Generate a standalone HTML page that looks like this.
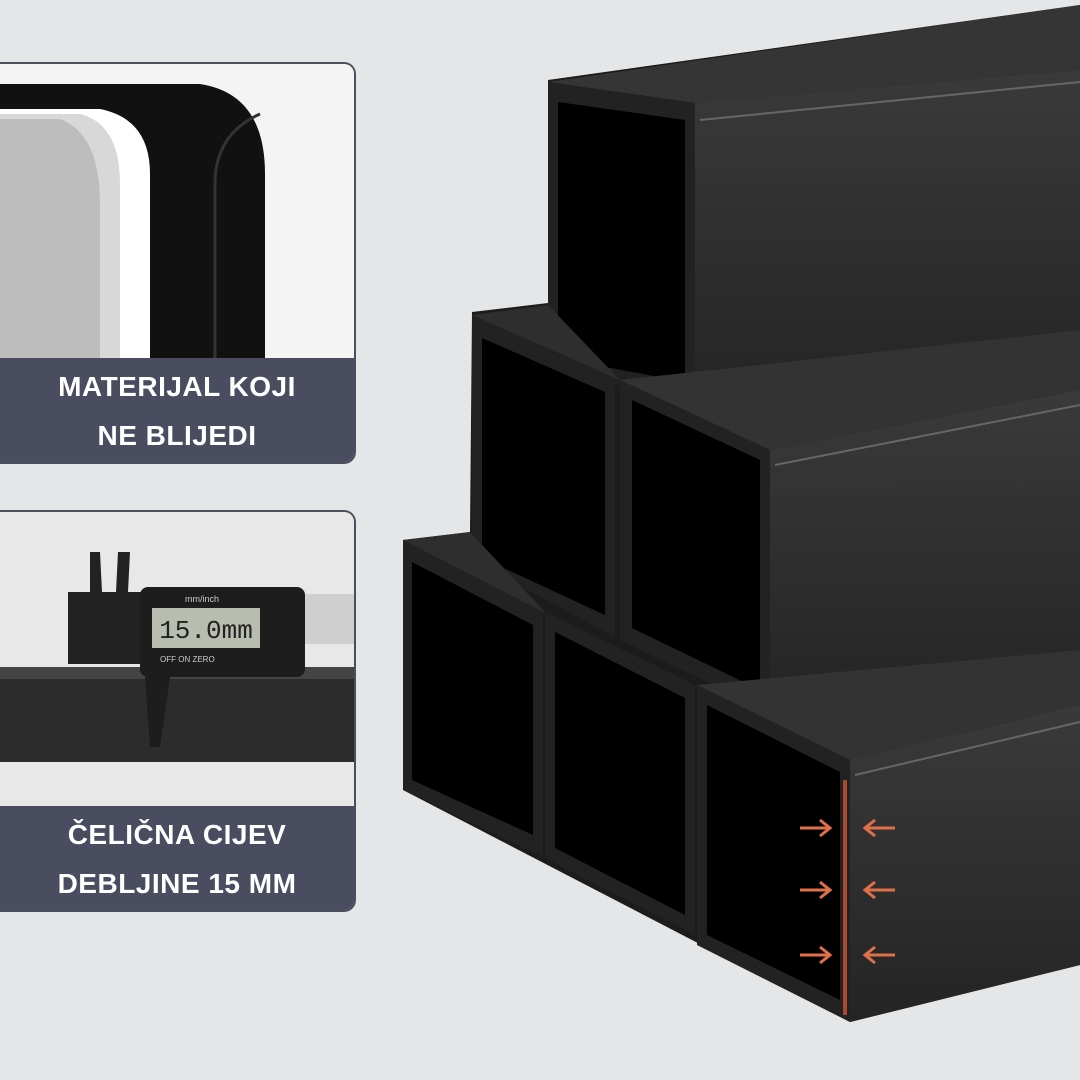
<!DOCTYPE html>
<html><head><meta charset="utf-8"><style>
body{margin:0;width:1080px;height:1080px;background:#e5e6e8;overflow:hidden;position:relative;font-family:"Liberation Sans",sans-serif}
.p{position:absolute;left:0;width:354px;height:398px;border:2px solid #4b4e5e;border-left:none;border-radius:0 12px 12px 0;overflow:hidden;background:#f2f2f2}
.lab{position:absolute;left:0;right:0;bottom:0;height:104px;background:#4a4d5f;color:#fff;font-weight:bold;font-size:28px;letter-spacing:0.5px;text-align:center;line-height:49px;padding-top:4px;box-sizing:border-box}
</style></head><body>
<div class="p" style="top:62px">
<svg width="354" height="296" style="position:absolute;top:0;left:0">
<rect width="354" height="296" fill="#f4f4f4"/>
<path d="M0,20 L200,20 Q265,30 265,110 L265,296 L0,296Z" fill="#111"/>
<path d="M0,45 L100,45 Q150,55 150,110 L150,296 L0,296Z" fill="#fff"/>
<path d="M0,50 L80,50 Q120,60 120,120 L120,296 L0,296Z" fill="#d8d8d8"/>
<path d="M0,55 L60,55 Q100,70 100,140 L100,296 L0,296Z" fill="#bdbdbd"/>
<path d="M215,296 L215,120 Q215,70 260,50" stroke="#333" stroke-width="3" fill="none"/>
</svg>
<div class="lab">MATERIJAL KOJI<br>NE BLIJEDI</div></div>
<div class="p" style="top:510px">
<svg width="354" height="296" style="position:absolute;top:0;left:0">
<rect width="354" height="296" fill="#e8e8e8"/>
<rect x="0" y="155" width="354" height="95" fill="#2c2c2c"/>
<rect x="0" y="155" width="354" height="12" fill="#444"/>
<rect x="70" y="82" width="284" height="50" fill="#cfcfcf"/>
<rect x="68" y="80" width="80" height="72" fill="#222"/>
<path d="M90,40 L100,40 L102,80 L90,80Z M118,40 L130,40 L128,80 L116,80Z" fill="#222"/>
<rect x="140" y="75" width="165" height="90" rx="8" fill="#1d1d1d"/>
<rect x="152" y="96" width="108" height="40" fill="#b9bdb0"/>
<text x="206" y="126" font-size="26" text-anchor="middle" fill="#222" font-family="Liberation Mono">15.0mm</text>
<text x="185" y="90" font-size="9" fill="#ccc">mm/inch</text>
<text x="160" y="150" font-size="8" fill="#ccc">OFF   ON   ZERO</text>
<path d="M145,165 L170,165 L160,235 L150,235Z" fill="#1d1d1d"/>
</svg>
<div class="lab">ČELIČNA CIJEV<br>DEBLJINE 15 MM</div></div>
<svg width="1080" height="1080" style="position:absolute;top:0;left:0">
<defs><linearGradient id="s" x1="0" y1="0" x2="0" y2="1"><stop offset="0" stop-color="#3a3a3a"/><stop offset="1" stop-color="#242424"/></linearGradient></defs>
<polygon points="403,540 470,532 472,312 548,303 548,80 1080,5 1080,965 850,1022 403,790" fill="#1c1c1c"/>
<!-- top tube -->
<polygon points="548,82 1080,5 1080,70 695,103" fill="#353535"/>
<polygon points="695,103 1080,70 1080,345 695,402" fill="url(#s)"/>
<line x1="700" y1="120" x2="1080" y2="82" stroke="#666" stroke-width="2"/>
<polygon points="548,82 695,103 695,402 548,370" fill="#222"/>
<polygon points="558,102 685,120 685,382 558,358" fill="#000"/>
<!-- middle right -->
<polygon points="620,380 1080,330 1080,390 770,450" fill="#333"/>
<polygon points="770,450 1080,390 1080,665 770,712" fill="url(#s)"/>
<line x1="775" y1="465" x2="1080" y2="405" stroke="#666" stroke-width="2"/>
<polygon points="620,380 770,450 770,712 620,640" fill="#222"/>
<polygon points="632,400 760,460 760,690 632,628" fill="#000"/>
<!-- middle left -->
<polygon points="472,315 548,305 620,380 615,378" fill="#2e2e2e"/>
<polygon points="472,315 615,378 615,637 472,560" fill="#222"/>
<polygon points="482,338 605,392 605,615 482,558" fill="#000"/>
<!-- bottom right tube -->
<polygon points="697,685 1080,650 1080,705 850,760" fill="#333"/>
<polygon points="850,760 1080,705 1080,965 850,1022" fill="url(#s)"/>
<line x1="855" y1="775" x2="1080" y2="722" stroke="#666" stroke-width="2"/>
<polygon points="697,685 850,760 850,1022 697,945" fill="#222"/>
<polygon points="707,705 840,772 840,1000 707,935" fill="#000"/>
<!-- bottom middle -->
<polygon points="545,612 695,685 695,935 545,858" fill="#222"/>
<polygon points="555,632 685,698 685,915 555,848" fill="#000"/>
<!-- bottom left -->
<polygon points="403,540 470,532 545,612 543,612" fill="#2e2e2e"/>
<polygon points="403,540 543,612 543,857 403,790" fill="#222"/>
<polygon points="412,562 533,625 533,835 412,780" fill="#000"/>
<!-- red -->
<line x1="845" y1="780" x2="845" y2="1015" stroke="#c0502f" stroke-width="4" opacity=".85"/>
<g stroke="#e0704a" stroke-width="3" fill="none">
<path d="M800,828 H830 M820,820 L830,828 L820,836"/><path d="M895,828 H865 M875,820 L865,828 L875,836"/>
<path d="M800,890 H830 M820,882 L830,890 L820,898"/><path d="M895,890 H865 M875,882 L865,890 L875,898"/>
<path d="M800,955 H830 M820,947 L830,955 L820,963"/><path d="M895,955 H865 M875,947 L865,955 L875,963"/>
</g>
</svg>
</body></html>
